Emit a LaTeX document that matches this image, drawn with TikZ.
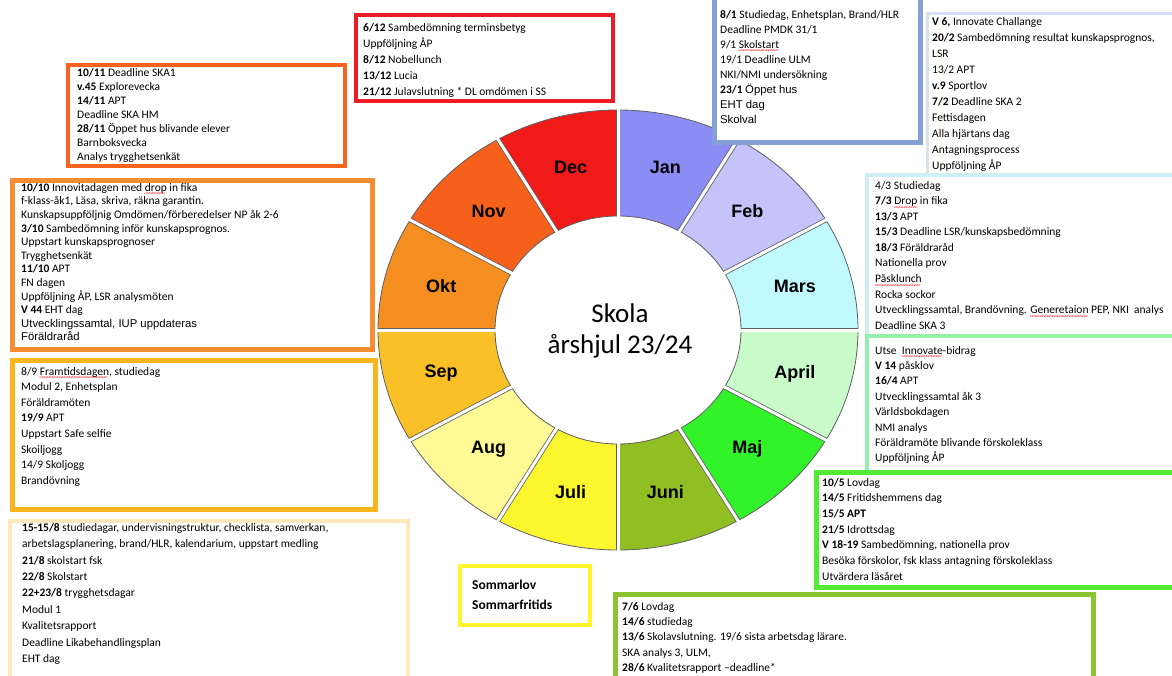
\documentclass[tikz,border=0pt]{standalone}
\usepackage{fontspec}
\setmainfont{Carlito}
\newfontfamily\arialf{Liberation Sans}
\newcommand\sq[1]{\setbox0\hbox{#1}\rlap{\raisebox{-4.5pt}[0pt][0pt]{\color{red}\fontsize{7}{7}\selectfont\leaders\hbox{\kern-0.5pt\char126\kern-0.5pt}\hskip\wd0}}\box0\relax}
\definecolor{mJan}{RGB}{140,140,245}
\definecolor{mFeb}{RGB}{196,196,250}
\definecolor{mMar}{RGB}{192,250,255}
\definecolor{mApr}{RGB}{200,250,202}
\definecolor{mMaj}{RGB}{50,242,42}
\definecolor{mJun}{RGB}{145,190,35}
\definecolor{mJul}{RGB}{252,246,46}
\definecolor{mAug}{RGB}{255,250,150}
\definecolor{mSep}{RGB}{250,192,40}
\definecolor{mOkt}{RGB}{245,142,32}
\definecolor{mNov}{RGB}{245,96,26}
\definecolor{mDec}{RGB}{240,26,24}
\definecolor{bNov}{RGB}{248,100,30}
\definecolor{bDec}{RGB}{238,28,36}
\definecolor{bJan}{RGB}{133,160,212}
\definecolor{bFeb}{RGB}{215,225,242}
\definecolor{bMar}{RGB}{205,238,243}
\definecolor{bApr}{RGB}{150,240,170}
\definecolor{bMaj}{RGB}{80,235,50}
\definecolor{bJun}{RGB}{140,195,50}
\definecolor{bJul}{RGB}{255,245,40}
\definecolor{bAug}{RGB}{255,232,185}
\definecolor{bSep}{RGB}{250,180,30}
\definecolor{bOkt}{RGB}{245,140,50}
\definecolor{edge}{RGB}{95,95,95}
\newcommand\ar{\arialf\fontsize{11.3}{13.6}\selectfont}
\tikzset{
  mbox/.style={draw, fill=white, rectangle, anchor=north west, inner sep=0pt, outer sep=0pt},
  txt/.style={anchor=north west, align=left, inner sep=0pt, yshift=9pt, execute at begin node={\rule{0pt}{9pt}}},
  mlabel/.style={font=\arialf\bfseries\fontsize{18}{18}\selectfont, inner sep=0pt}
}
\begin{document}
\begin{tikzpicture}[x=1pt,y=-1pt]
\useasboundingbox[fill=white] (0,0) rectangle (1172,675);
% ---------- wheel ----------
\begin{scope}[shift={(618,330)}, yscale=-1]
  \foreach \a/\c in {60/mJan,30/mFeb,0/mMar,-30/mApr,-60/mMaj,-90/mJun,-120/mJul,-150/mAug,180/mSep,150/mOkt,120/mNov,90/mDec}{
    \fill[\c] ({123*cos(\a)},{114*sin(\a)}) -- ({240*cos(\a)},{220*sin(\a)})
      arc[start angle=\a, end angle=\a+30, x radius=240, y radius=220]
      -- ({123*cos(\a+30)},{114*sin(\a+30)})
      arc[start angle=\a+30, end angle=\a, x radius=123, y radius=114] -- cycle;
  }
  \draw[edge, line width=0.8pt] (0,0) ellipse[x radius=240, y radius=220];
  \draw[edge, line width=0.8pt] (0,0) ellipse[x radius=123, y radius=114];
  \foreach \a in {0,30,...,330}{
    \draw[edge, line width=4.6pt] ({123*cos(\a)},{114*sin(\a)}) -- ({240*cos(\a)},{220*sin(\a)});
    \draw[white, line width=3pt] ({122*cos(\a)},{113*sin(\a)}) -- ({241*cos(\a)},{221*sin(\a)});
  }
  \foreach \a/\t/\n in {75/Jan/lJan,45/Feb/lFeb,15/Mars/lMar,-15/April/lApr,-45/Maj/lMaj,-75/Juni/lJun,-105/Juli/lJul,-135/Aug/lAug,-165/Sep/lSep,165/Okt/lOkt,135/Nov/lNov,105/Dec/lDec}{
    \node[mlabel] (\n) at ({183*cos(\a)},{168*sin(\a)}) {\t};
  }
\end{scope}
\node[align=center, inner sep=0pt, font=\fontsize{27}{31}\selectfont] (center) at (620,331) {Skola\\årshjul 23/24};
% ---------- boxes (right column, stacked) ----------
\node[mbox, draw=bFeb, line width=3pt, minimum width=260pt, minimum height=170pt] (bxFeb) at (927.5,13.5) {};
\node[txt, font=\fontsize{11.5}{16}\selectfont] (txFeb) at (932,26) {\textbf{V 6,} Innovate Challange\\
\textbf{20/2} Sambedömning resultat kunskapsprognos,\\
LSR\\
13/2 APT\\
\textbf{v.9} Sportlov\\
\textbf{7/2} Deadline SKA 2\\
Fettisdagen\\
Alla hjärtans dag\\
Antagningsprocess\\
Uppföljning ÅP};
\node[mbox, draw=bMar, line width=4pt, minimum width=320pt, minimum height=162pt] (bxMar) at (867,175) {};
\node[txt, font=\fontsize{11.5}{15.56}\selectfont] (txMar) at (875,190) {4/3 Studiedag\\
\textbf{7/3} \sq{Drop} in fika\\
\textbf{13/3} APT\\
\textbf{15/3} Deadline LSR/kunskapsbedömning\\
\textbf{18/3} Föräldraråd\\
Nationella prov\\
\sq{Påsklunch}\\
Rocka sockor\\
Utvecklingssamtal, Brandövning. \sq{Generetaion} PEP, NKI~ analys\\
Deadline SKA 3};
\node[mbox, draw=bApr, line width=4pt, minimum width=320pt, minimum height=136pt] (bxApr) at (867,336) {};
\node[txt, font=\fontsize{11.5}{15.4}\selectfont] (txApr) at (875,355) {Utse~ \sq{Innovate}-bidrag\\
\textbf{V 14} påsklov\\
\textbf{16/4} APT\\
Utvecklingssamtal åk 3\\
Världsbokdagen\\
NMI analys\\
Föräldramöte blivande förskoleklass\\
Uppföljning ÅP};
\node[mbox, draw=bMaj, line width=5pt, minimum width=370pt, minimum height=115pt] (bxMaj) at (816.5,472.5) {};
\node[txt, font=\fontsize{11.5}{15.67}\selectfont] (txMaj) at (822,487) {\textbf{10/5} Lovdag\\
\textbf{14/5} Fritidshemmens dag\\
\textbf{15/5 APT}\\
\textbf{21/5} Idrottsdag\\
\textbf{V 18-19} Sambedömning, nationella prov\\
Besöka förskolor, fsk klass antagning förskoleklass\\
Utvärdera läsåret};
\node[mbox, draw=bJun, line width=5pt, minimum width=478pt, minimum height=100pt] (bxJun) at (615.5,594.5) {};
\node[txt, font=\fontsize{11.5}{15.25}\selectfont] (txJun) at (622,611) {\textbf{7/6} Lovdag\\
\textbf{14/6} studiedag\\
\textbf{13/6} Skolavslutning. 19/6 sista arbetsdag lärare.\\
SKA analys 3, ULM,\\
\textbf{28/6} Kvalitetsrapport \textendash deadline*};
\node[mbox, draw=bJul, line width=4pt, minimum width=130pt, minimum height=59pt] (bxJul) at (460,566) {};
\node[txt, font=\fontsize{13.5}{20}\selectfont] (txJul) at (472,589) {\textbf{Sommarlov}\\
\textbf{Sommarfritids}};
% ---------- top boxes ----------
\node[mbox, draw=bJan, line width=5pt, minimum width=206pt, minimum height=152.5pt] (bxJan) at (714.5,-10) {};
\node[txt, font=\fontsize{11.5}{15}\selectfont] (txJan) at (720,19) {\textbf{8/1} Studiedag, Enhetsplan, Brand/HLR\\
Deadline PMDK 31/1\\
9/1 \sq{Skolstart}\\
19/1 Deadline ULM\\
NKI/NMI undersökning\\
\textbf{23/1} {\ar Öppet hus}\\
{\ar EHT dag}\\
{\arialf\fontsize{11.3}{12.5}\selectfont Skolval}};
\node[mbox, draw=bDec, line width=4pt, minimum width=257pt, minimum height=86pt] (bxDec) at (356,15) {};
\node[txt, font=\fontsize{11.5}{16}\selectfont] (txDec) at (363,32) {\textbf{6/12} Sambedömning terminsbetyg\\
Uppföljning ÅP\\
\textbf{8/12} Nobellunch\\
\textbf{13/12} Lucia\\
\textbf{21/12} Julavslutning * DL omdömen i SS};
\node[mbox, draw=bNov, line width=4pt, minimum width=277pt, minimum height=101pt] (bxNov) at (68,65) {};
\node[txt, font=\fontsize{11.5}{14}\selectfont] (txNov) at (77,77) {\textbf{10/11} Deadline SKA1\\
\textbf{v.45} Explorevecka\\
\textbf{14/11} APT\\
Deadline SKA HM\\
\textbf{28/11} Öppet hus blivande elever\\
Barnboksvecka\\
Analys trygghetsenkät};
% ---------- left column ----------
\node[mbox, draw=bOkt, line width=5pt, minimum width=360pt, minimum height=169pt] (bxOkt) at (12.5,180.5) {};
\node[txt, font=\fontsize{11.5}{13.6}\selectfont] (txOkt) at (21,192) {\textbf{10/10} Innovitadagen med \sq{drop} in fika\\
f-klass-åk1, Läsa, skriva, räkna garantin.\\
Kunskapsuppföljnig Omdömen/förberedelser NP åk 2-6\\
\textbf{3/10} Sambedömning inför kunskapsprognos.\\
Uppstart kunskapsprognoser\\
Trygghetsenkät\\
\textbf{11/10} APT\\
FN dagen\\
Uppföljning ÅP, LSR analysmöten\\
\textbf{V 44} EHT dag\\
{\ar Utvecklingssamtal, IUP uppdateras}\\
{\ar Föräldraråd}};
\node[mbox, draw=bSep, line width=5pt, minimum width=363pt, minimum height=149pt] (bxSep) at (12.5,360.5) {};
\node[txt, font=\fontsize{11.5}{15.6}\selectfont] (txSep) at (21,376) {8/9 \sq{Framtidsdagen}, studiedag\\
Modul 2, Enhetsplan\\
Föräldramöten\\
\textbf{19/9} APT\\
Uppstart Safe selfie\\
Skoiljogg\\
14/9 Skoljogg\\
Brandövning};
\node[mbox, draw=bAug, line width=4pt, minimum width=398pt, minimum height=170pt] (bxAug) at (10,521) {};
\node[txt, font=\fontsize{11.5}{16.4}\selectfont] (txAug) at (22,532) {\textbf{15-15/8} studiedagar, undervisningstruktur, checklista, samverkan,\\
arbetslagsplanering, brand/HLR, kalendarium, uppstart medling\\
\textbf{21/8} skolstart fsk\\
\textbf{22/8} Skolstart\\
\textbf{22+23/8} trygghetsdagar\\
Modul 1\\
Kvalitetsrapport\\
Deadline Likabehandlingsplan\\
EHT dag};
\end{tikzpicture}
\end{document}
